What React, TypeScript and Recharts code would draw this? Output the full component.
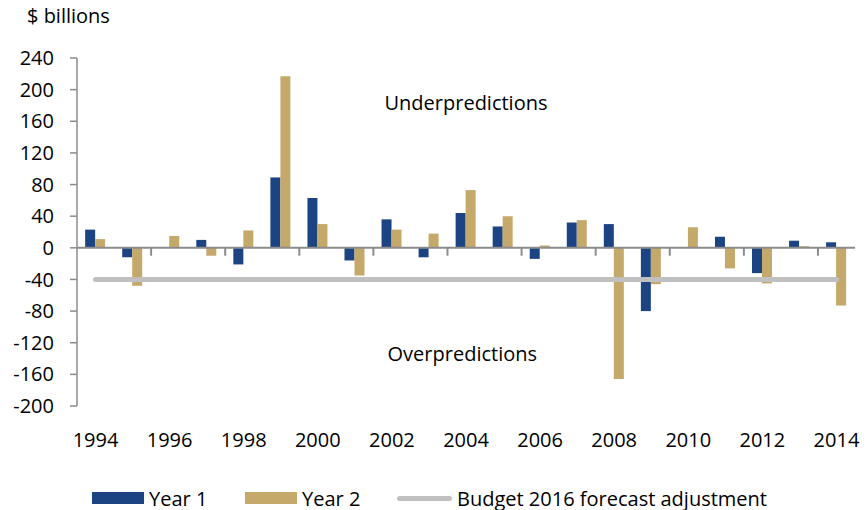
import React from 'react';
import {
  ComposedChart,
  Bar,
  Line,
  XAxis,
  YAxis,
  ReferenceLine,
  ReferenceDot,
} from 'recharts';

const years = [
  '1994', '1995', '1996', '1997', '1998', '1999', '2000', '2001', '2002', '2003', '2004',
  '2005', '2006', '2007', '2008', '2009', '2010', '2011', '2012', '2013', '2014',
];
const year1 = [23, -12, 0, 10, -21, 89, 63, -16, 36, -12, 44, 27, -14, 32, 30, -80, 1, 14, -32, 9, 7];
const year2 = [11, -48, 15, -10, 22, 217, 30, -35, 23, 18, 73, 40, 3, 35, -166, -46, 26, -26, -45, 2, -73];
const adjustment = -40;
const yTicks = [-200, -160, -120, -80, -40, 0, 40, 80, 120, 160, 200, 240];
// boundaries (in category units) where the little tick marks on the zero line sit
const tickMarks = [2, 4, 6, 8, 10, 12, 14, 16, 18, 20];

const NAVY = '#1d4482';
const TAN = '#c4a96b';
const GREY_LINE = '#c0c0c0';
const AXIS = '#8c8c8c';
const FONT = '"Open Sans", "Noto Sans", sans-serif';
const FS = 20;

// pos = centre of each category on a 0..21 linear scale (used by the hidden helper axis)
const data = years.map((year, i) => ({
  year,
  pos: i + 0.5,
  y1: year1[i],
  y2: year2[i],
  adj: adjustment,
}));

function LegendItem({ left, swatch, label }: { left: number; swatch: React.ReactNode; label: string }) {
  return (
    <div
      style={{
        position: 'absolute',
        left,
        top: 486,
        height: 24,
        display: 'flex',
        alignItems: 'center',
        fontFamily: FONT,
        fontSize: FS,
        color: '#000',
        whiteSpace: 'nowrap',
      }}
    >
      {swatch}
      <span style={{ marginLeft: 5 }}>{label}</span>
    </div>
  );
}

export default function App() {
  return (
    <div style={{ position: 'absolute', left: 0, top: 0, width: 867, height: 510, background: '#fff' }}>
      <div
        style={{
          position: 'absolute',
          left: 27,
          top: 6,
          fontFamily: FONT,
          fontSize: FS,
          lineHeight: 1,
          color: '#000',
        }}
      >
        $ billions
      </div>
      <ComposedChart
        width={867}
        height={510}
        data={data}
        margin={{ top: 58, right: 12, left: 17, bottom: 70 }}
        barCategoryGap="22%"
        barGap={0}
        style={{ fontFamily: FONT }}
      >
        <XAxis
          dataKey="year"
          interval={1}
          axisLine={false}
          tickLine={false}
          tickSize={0}
          tickMargin={27}
          height={34}
          tick={{ fontSize: FS, fill: '#000' }}
        />
        <XAxis
          xAxisId="num"
          type="number"
          dataKey="pos"
          domain={[0, 21]}
          allowDataOverflow
          hide
        />
        <YAxis
          domain={[-200, 240]}
          ticks={yTicks}
          interval={0}
          width={60}
          axisLine={{ stroke: AXIS, strokeWidth: 1.5 }}
          tickLine={{ stroke: AXIS, strokeWidth: 1.5 }}
          tickSize={7}
          tickMargin={16}
          tick={{ fontSize: FS, fill: '#000' }}
        />
        <Bar dataKey="y1" name="Year 1" fill={NAVY} isAnimationActive={false} />
        <Bar dataKey="y2" name="Year 2" fill={TAN} isAnimationActive={false} />
        <ReferenceLine y={0} stroke={AXIS} strokeWidth={2} />
        {tickMarks.map((t) => (
          <ReferenceLine
            key={t}
            xAxisId="num"
            segment={[{ x: t, y: 0 }, { x: t, y: -10 }]}
            stroke={AXIS}
            strokeWidth={2}
          />
        ))}
        <Line
          dataKey="adj"
          name="Budget 2016 forecast adjustment"
          stroke={GREY_LINE}
          strokeWidth={5}
          strokeLinecap="round"
          dot={false}
          activeDot={false}
          isAnimationActive={false}
        />
        <ReferenceDot
          xAxisId="num"
          x={10.5}
          y={183}
          r={1}
          fill="none"
          stroke="none"
          label={{ value: 'Underpredictions', position: 'center', fontSize: FS, fill: '#000' }}
        />
        <ReferenceDot
          xAxisId="num"
          x={10.4}
          y={-134}
          r={1}
          fill="none"
          stroke="none"
          label={{ value: 'Overpredictions', position: 'center', fontSize: FS, fill: '#000' }}
        />
      </ComposedChart>
      <LegendItem
        left={92}
        label="Year 1"
        swatch={<span style={{ width: 52, height: 12, background: NAVY }} />}
      />
      <LegendItem
        left={245}
        label="Year 2"
        swatch={<span style={{ width: 52, height: 12, background: TAN }} />}
      />
      <LegendItem
        left={397}
        label="Budget 2016 forecast adjustment"
        swatch={<span style={{ width: 55, height: 5, borderRadius: 3, background: GREY_LINE }} />}
      />
    </div>
  );
}
